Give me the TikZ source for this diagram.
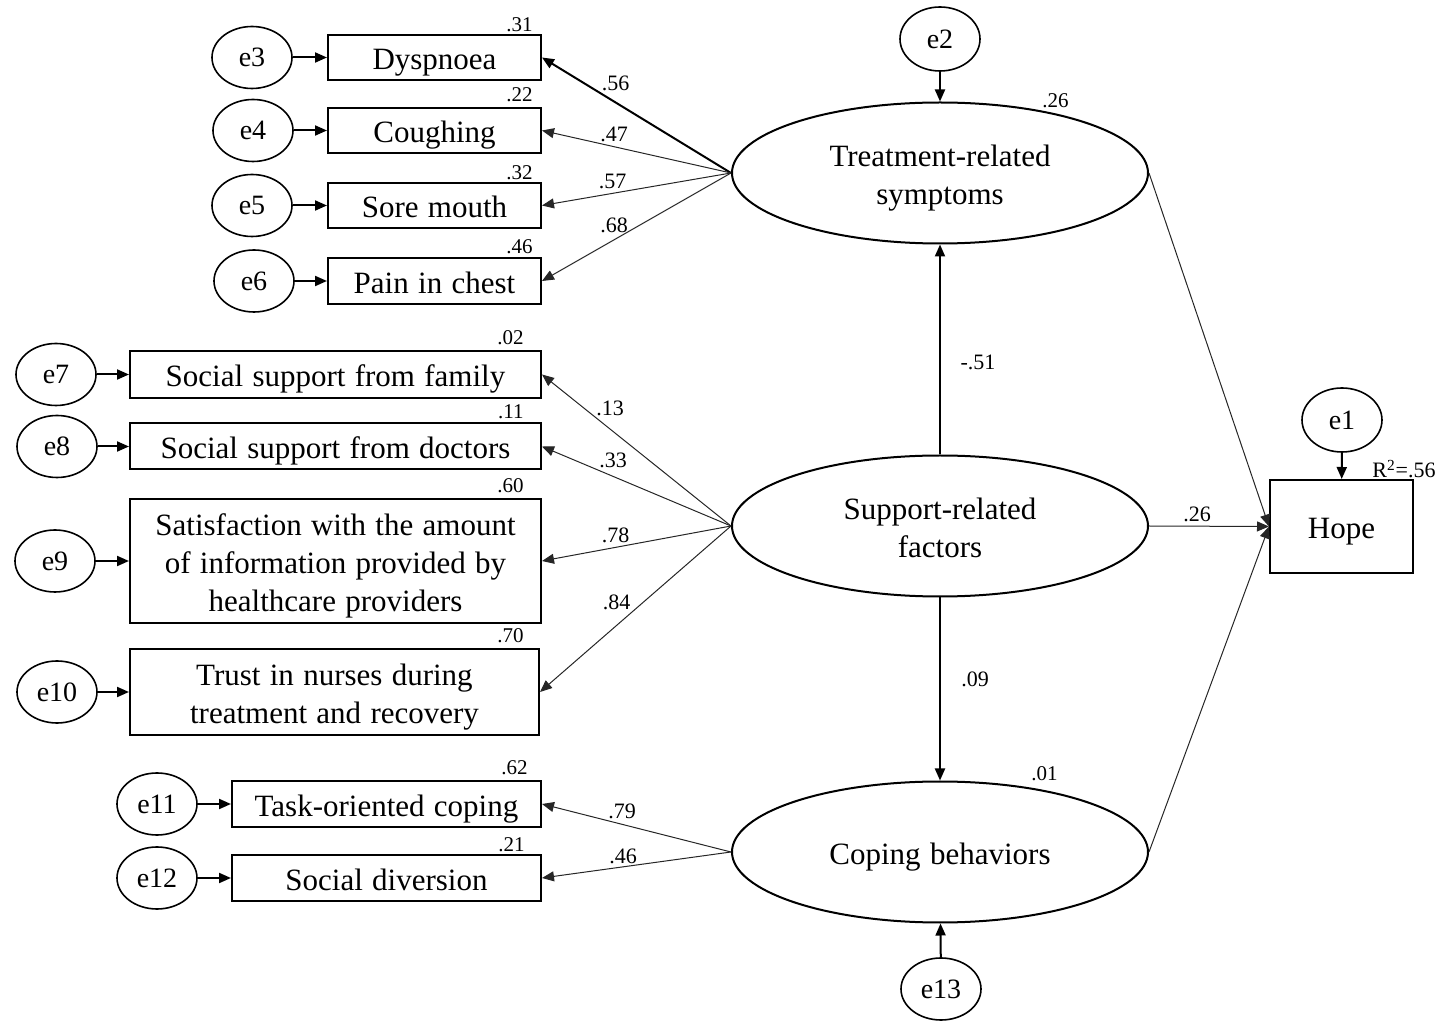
\documentclass[tikz,border=0pt]{standalone}
\usepackage{fontspec}
\setmainfont{Liberation Serif}
\usetikzlibrary{arrows.meta,shapes.geometric}
\newcommand\mywordspace{\spaceskip=0.3em plus 0.1em minus 0.05em\relax}
\newcommand\hs{\rule{0pt}{16pt}}
\newcommand\ds{\rule[-3.5pt]{0pt}{3.5pt}}
\begin{document}
\begin{tikzpicture}[x=0.5pt,y=-0.5pt,
  txt/.style={font={\fontsize{15.5}{19}\selectfont\mywordspace}},
  obs/.style={draw, line width=1pt, rectangle, inner sep=0pt, align=center, txt},
  lat/.style={draw, line width=1pt, ellipse, inner sep=0pt, minimum width=208pt, minimum height=70.5pt, align=center, txt},
  err/.style={draw, line width=0.8pt, ellipse, inner sep=0pt, minimum width=40pt, minimum height=31pt, font=\fontsize{14}{16}\selectfont},
  tip/.style={-{Triangle[length=6pt,width=5pt]}},
  strong/.style={tip, line width=1pt},
  weak/.style={tip, line width=0.5pt, black!85},
  rsq/.style={font=\fontsize{10.5}{12}\selectfont, anchor=base east, inner sep=0pt},
  coef/.style={font=\fontsize{11}{13}\selectfont, inner sep=0pt},
  g1/.style={obs, minimum width=106.5pt, minimum height=22.5pt},
  g2/.style={obs, minimum width=205.5pt},
  g3/.style={obs, minimum width=154.5pt, minimum height=23pt},
]
\useasboundingbox (0,0) rectangle (1437,1021);

% observed indicators
\node[g1] (b3) at (434.5,57.5) {\hs Dyspnoea\ds};
\node[g1] (b4) at (434.5,130.5) {\hs Coughing\ds};
\node[g1] (b5) at (434.5,205.5) {\hs Sore mouth\ds};
\node[g1, minimum height=23pt] (b6) at (434.5,281) {\hs Pain in chest\ds};

\node[g2, minimum height=23.5pt] (b7) at (335.5,374.5) {\hs Social support from family\ds};
\node[g2, minimum height=23pt] (b8) at (335.5,446.5) {\hs Social support from doctors\ds};
\node[g2, minimum height=62pt] (b9) at (335.5,561) {\hs Satisfaction with the amount\\of information provided by\\healthcare providers\ds};
\node[obs, minimum width=204.5pt, minimum height=43pt] (b10) at (334.5,692) {\hs Trust in nurses during\\treatment and recovery\ds};

\node[g3] (b11) at (386.5,804) {\hs Task-oriented coping\ds};
\node[g3] (b12) at (386.5,878) {\hs Social diversion\ds};

\node[obs, minimum width=71.5pt, minimum height=46.5pt] (hope) at (1341.5,526.5) {\hs Hope\ds};

% latent variables
\node[lat] (tr) at (940,173) {\hs Treatment-related\\symptoms\ds};
\node[lat] (sp) at (940,526) {\hs Support-related\\factors\ds};
\node[lat] (cp) at (940,852) {\hs Coping behaviors\ds};

% error terms
\node[err] (e3) at (252,57.5) {e3};
\node[err] (e4) at (253,130.5) {e4};
\node[err] (e5) at (252,205.5) {e5};
\node[err] (e6) at (254,281) {e6};
\node[err] (e7) at (56,374.5) {e7};
\node[err] (e8) at (57,446.5) {e8};
\node[err] (e9) at (55,561) {e9};
\node[err] (e10) at (57,692) {e10};
\node[err] (e11) at (157,804) {e11};
\node[err] (e12) at (157,878) {e12};
\node[err, minimum height=32pt] (e2) at (940,39) {e2};
\node[err] (e13) at (941,989) {e13};
\node[err, minimum height=32pt] (e1) at (1342,420) {e1};

% error arrows
\foreach \i in {3,...,12} {\draw[strong] (e\i.east) -- (b\i.west);}
\draw[strong] (e2) -- (tr);
\draw[strong] (e13) -- (cp);
\draw[strong] (e1) -- (hope);

% loadings
\draw[strong] (tr.west) -- (b3.east);
\draw[weak] (tr.west) -- (b4.east);
\draw[weak] (tr.west) -- (b5.east);
\draw[weak] (tr.west) -- (b6.east);
\draw[weak] (sp.west) -- (b7.east);
\draw[weak] (sp.west) -- (b8.east);
\draw[weak] (sp.west) -- (b9.east);
\draw[weak] (sp.west) -- (b10.east);
\draw[weak] (cp.west) -- (b11.east);
\draw[weak] (cp.west) -- (b12.east);

% structural paths
\draw[strong] (sp.north) -- (tr.south);
\draw[strong] (sp.south) -- (cp.north);
\draw[weak] (tr.east) -- (hope.west);
\draw[weak] (sp.east) -- (hope.west);
\draw[weak] (cp.east) -- (hope.west);

% squared multiple correlations
\node[rsq] (r3) at (533,32) {.31};
\node[rsq] (r4) at (533,102) {.22};
\node[rsq] (r5) at (533,180) {.32};
\node[rsq] (r6) at (533,254) {.46};
\node[rsq] (r7) at (524,345) {.02};
\node[rsq] (r8) at (524,419) {.11};
\node[rsq] (r9) at (524,493) {.60};
\node[rsq] (r10) at (524,643) {.70};
\node[rsq] (r11) at (528,775) {.62};
\node[rsq] (r12) at (525,852) {.21};
\node[rsq] (rtr) at (1069,108) {.26};
\node[rsq] (rcp) at (1058,781) {.01};
\node[rsq, font=\fontsize{11}{13}\selectfont] (rhope) at (1436,478) {R\textsuperscript{2}=.56};

% coefficients
\node[coef] (c3) at (615.5,83) {.56};
\node[coef] (c4) at (614,134) {.47};
\node[coef] (c5) at (612.5,181) {.57};
\node[coef] (c6) at (614,225) {.68};
\node[coef] (c7) at (610,408.5) {.13};
\node[coef] (c8) at (613,460.5) {.33};
\node[coef] (c9) at (615.5,535.5) {.78};
\node[coef] (c10) at (616.5,602.5) {.84};
\node[coef] (c11) at (622,811) {.79};
\node[coef] (c12) at (623,856) {.46};
\node[coef] (cst) at (978,362.5) {-.51};
\node[coef] (csc) at (975,679.5) {.09};
\node[coef] (csh) at (1197,514) {.26};
\end{tikzpicture}
\end{document}
